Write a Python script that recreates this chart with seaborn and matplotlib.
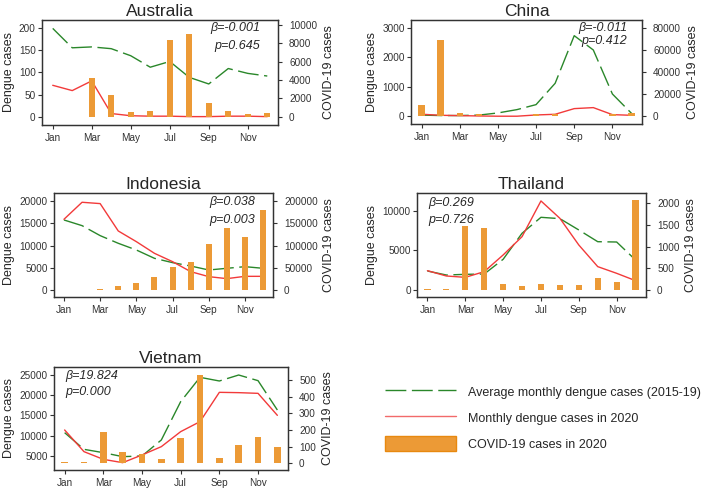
import matplotlib.pyplot as plt
import matplotlib.lines as mlines
import matplotlib.patches as mpatches
import numpy as np
import pandas as pd
import seaborn as sns

months = np.arange(1, 13)
month_ticks = [1, 3, 5, 7, 9, 11]
month_labels = ["Jan", "Mar", "May", "Jul", "Sep", "Nov"]

# dengue averages 2015-19, dengue 2020, covid 2020
aus_avg = [200, 156, 158, 154, 138, 112, 125, 89, 74, 109, 98, 92]
aus_2020 = [71, 59, 81, 7, 2, 1, 1, 0, 0, 1, 1, 0]
aus_covid = [9, 16, 4250, 2370, 480, 620, 8360, 9020, 1490, 620, 330, 440]

chn_avg = [40, 25, 25, 40, 113, 226, 395, 1117, 2730, 2245, 755, 100]
chn_2020 = [70, 34, 23, 11, 3, 3, 45, 68, 260, 294, 56, 34]
chn_covid = [9900, 69200, 2700, 1800, 100, 500, 2400, 2400, 600, 600, 1800, 3300]

idn_avg = [15790, 14510, 12260, 10530, 9020, 7140, 6170, 5410, 4510, 4890, 5260, 4890]
idn_2020 = [15940, 19780, 19480, 13310, 10900, 8270, 6390, 4140, 3010, 2560, 3080, 3080]
idn_covid = [0, 0, 2250, 9000, 16500, 29300, 51900, 63900, 103000, 139800, 118800, 180400]

tha_avg = [2375, 1865, 1950, 1990, 3860, 7170, 9200, 9030, 7590, 6100, 6060, 3770]
tha_2020 = [2415, 1740, 1570, 2290, 4410, 6740, 11280, 9070, 5680, 2930, 2080, 1145]
tha_covid = [15, 23, 1475, 1420, 124, 85, 131, 100, 108, 263, 178, 2077]

vnm_avg = [10740, 6640, 5820, 4840, 5000, 8940, 18370, 24350, 23450, 24920, 23530, 16310]
vnm_2020 = [11400, 6070, 4180, 3360, 5250, 7300, 10990, 13450, 20660, 20580, 20410, 15000]
vnm_covid = [6, 10, 190, 66, 56, 26, 154, 532, 30, 110, 160, 100]

sns.set_style("ticks")
plt.rcParams["font.family"] = ["Liberation Sans", "DejaVu Sans"]
plt.rcParams["axes.edgecolor"] = "#333333"
plt.rcParams["xtick.color"] = "#333333"
plt.rcParams["ytick.color"] = "#333333"

GREEN = "#2a872a"
RED = "#f23a3a"
ORANGE = "#ec9a36"
DASH = (0, (15, 4))

W, H = 705, 491
fig = plt.figure(figsize=(W / 100, H / 100), dpi=100)


def panel(box, name, avg, d2020, covid, ylim, yticks, ylim2, yticks2,
          beta, p, tx, ty_b, ty_p, ha):
    l, r, t, b = box
    ax = fig.add_axes([l / W, 1 - b / H, (r - l) / W, (b - t) / H])
    ax2 = ax.twinx()
    df = pd.DataFrame({"month": months, "avg": avg, "d2020": d2020, "covid": covid})
    sns.lineplot(data=df, x="month", y="avg", ax=ax, color=GREEN, lw=1, linestyle=DASH)
    sns.lineplot(data=df, x="month", y="d2020", ax=ax, color=RED, lw=1)
    sns.barplot(data=df, x="month", y="covid", ax=ax2, native_scale=True, width=0.33,
                color=ORANGE, saturation=1, errorbar=None, linewidth=0)

    ax.set_xlim(0.45, 12.55)
    ax.set_xticks(month_ticks, month_labels)
    ax.set_ylim(*ylim)
    ax.set_yticks(yticks, [str(v) for v in yticks])
    ax2.set_ylim(*ylim2)
    ax2.set_yticks(yticks2, [str(v) for v in yticks2])
    ax.set_xlabel("")
    ax.set_ylabel("Dengue cases", fontsize=9, labelpad=3)
    ax2.set_ylabel("COVID-19 cases", fontsize=9, labelpad=4)
    ax.set_title(name, fontsize=12.5, pad=3)
    ax.tick_params(axis="x", labelsize=7.2, length=3, pad=2.5)
    ax.tick_params(axis="y", labelsize=7.2, length=3, pad=1.5)
    ax2.tick_params(axis="y", labelsize=7.2, length=3, pad=5)
    for a in (ax, ax2):
        for s in a.spines.values():
            s.set_linewidth(0.9)
    ax.text(tx, ty_b, f"β={beta}", transform=ax.transAxes, fontsize=9,
            style="italic", ha=ha, va="center", zorder=5)
    ax2.text(tx, ty_p, f"p={p}", transform=ax.transAxes, fontsize=9,
             style="italic", ha=ha, va="center", zorder=5)


panel((42, 278, 20, 125), "Australia", aus_avg, aus_2020, aus_covid,
      (-19, 219), [0, 50, 100, 150, 200], (-905, 10545), [0, 2000, 4000, 6000, 8000, 10000],
      "-0.001", "0.645", 0.925, 0.92, 0.75, "right")
panel((411, 642, 20, 124), "China", chn_avg, chn_2020, chn_covid,
      (-261, 3261), [0, 1000, 2000, 3000], (-6950, 86950), [0, 20000, 40000, 60000, 80000],
      "-0.011", "0.412", 0.935, 0.92, 0.80, "right")
panel((54, 273, 193, 297), "Indonesia", idn_avg, idn_2020, idn_covid,
      (-1580, 21870), [0, 5000, 10000, 15000, 20000], (-15800, 218700),
      [0, 50000, 100000, 150000, 200000],
      "0.038", "0.003", 0.92, 0.915, 0.74, "right")
panel((417, 646, 193, 297), "Thailand", tha_avg, tha_2020, tha_covid,
      (-930, 12290), [0, 5000, 10000], (-169, 2239), [0, 500, 1000, 1500, 2000],
      "0.269", "0.726", 0.048, 0.90, 0.74, "left")
panel((54, 288, 367, 470), "Vietnam", vnm_avg, vnm_2020, vnm_covid,
      (1556, 26890), [5000, 10000, 15000, 20000, 25000], (-40, 578), [0, 100, 200, 300, 400, 500],
      "19.824", "0.000", 0.047, 0.915, 0.757, "left")

handles = [
    mlines.Line2D([], [], color=GREEN, lw=1, linestyle=DASH),
    mlines.Line2D([], [], color="#f26a6a", lw=1),
    mpatches.Patch(facecolor=ORANGE, edgecolor="#e8890f", linewidth=1),
]
labels = ["Average monthly dengue cases (2015-19)", "Monthly dengue cases in 2020",
          "COVID-19 cases in 2020"]
fig.legend(handles, labels, loc="upper left", bbox_to_anchor=(385 / W, 1 - 384 / H),
           frameon=False, fontsize=9, handlelength=5.7, handleheight=1.5,
           labelspacing=0.85, handletextpad=0.9, borderpad=0, borderaxespad=0)

fig.savefig("out.png", dpi=100)
